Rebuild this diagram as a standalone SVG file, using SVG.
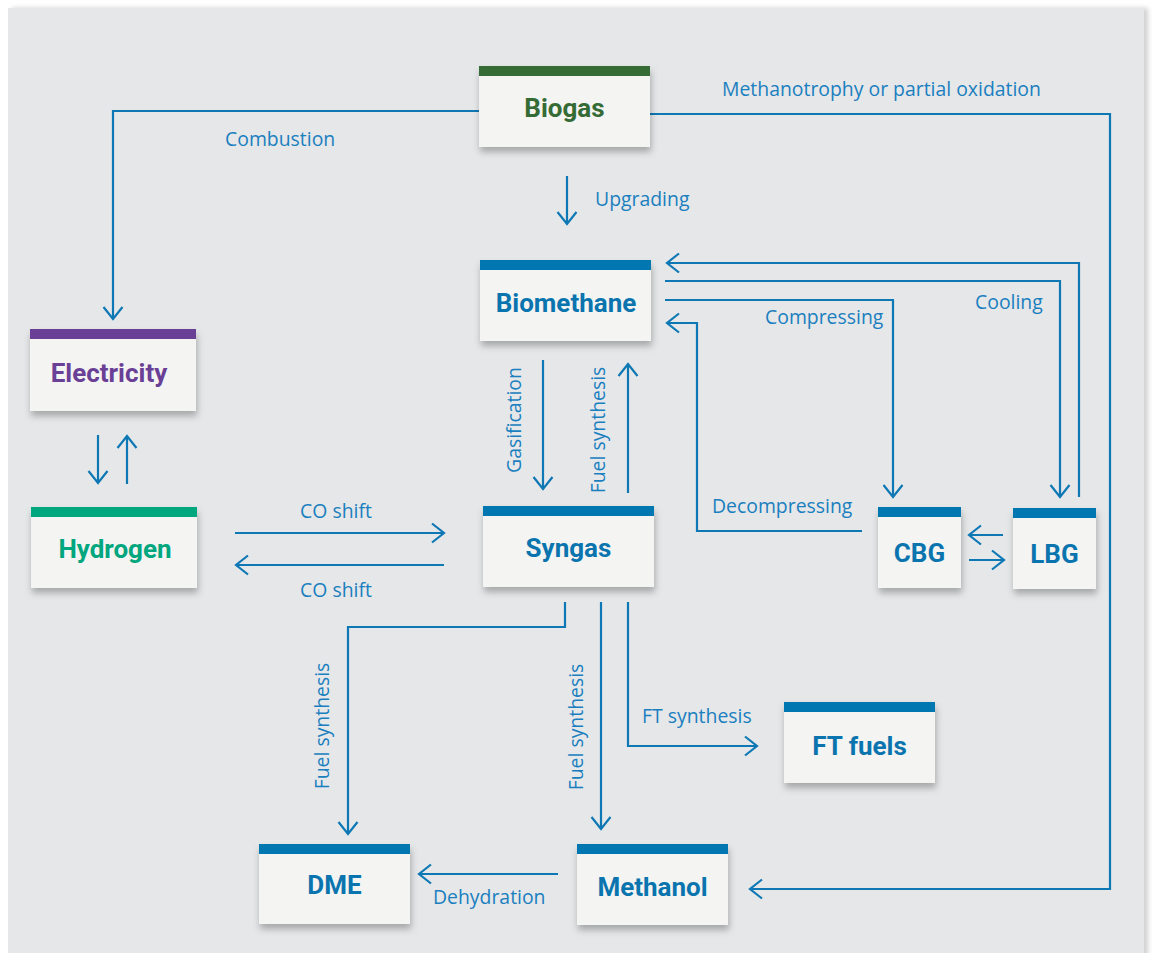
<svg xmlns="http://www.w3.org/2000/svg" width="1152" height="953" viewBox="0 0 1152 953">
<defs>
<style>
.lbl{font-family:"Open Sans","Liberation Sans",sans-serif;font-size:19.4px;fill:#1a7fbf}
.bt{font-family:Roboto,"Liberation Sans",sans-serif;font-size:26px;font-weight:bold;text-anchor:middle}
.body{fill:#f4f4f3}
.con{fill:none;stroke:#0e78b5;stroke-width:2.2}
.blue{fill:#0077b0}
</style>
<filter id="sh" x="-10%" y="-10%" width="120%" height="130%">
<feDropShadow dx="1" dy="5" stdDeviation="3.5" flood-color="#000" flood-opacity="0.28"/>
</filter>
<filter id="psh" x="-5%" y="-5%" width="110%" height="110%">
<feDropShadow dx="4" dy="0" stdDeviation="2.5" flood-color="#000" flood-opacity="0.18"/>
</filter>
<marker id="ar" markerUnits="userSpaceOnUse" viewBox="-15 -15 30 30" markerWidth="30" markerHeight="30" refX="0" refY="0" orient="auto">
<path d="M-12,-9.5 L0,0 L-12,9.5" fill="none" stroke="#0e78b5" stroke-width="2.2"/>
</marker>
</defs>
<rect width="1152" height="953" fill="#ffffff"/>
<rect x="8" y="8" width="1136" height="960" fill="#e6e7e9" filter="url(#psh)"/>

<g id="connectors">
<path class="con" d="M479,111 H113 V319" marker-end="url(#ar)"/>
<path class="con" d="M650,114 H1110 V889 H750" marker-end="url(#ar)"/>
<path class="con" d="M567,176 V224" marker-end="url(#ar)"/>
<path class="con" d="M1079,497 V263 H667" marker-end="url(#ar)"/>
<path class="con" d="M665,281 H1060 V497" marker-end="url(#ar)"/>
<path class="con" d="M665,300 H893 V497" marker-end="url(#ar)"/>
<path class="con" d="M862,531 H697 V323 H667" marker-end="url(#ar)"/>
<path class="con" d="M1003,535 H969" marker-end="url(#ar)"/>
<path class="con" d="M969,560 H1004" marker-end="url(#ar)"/>
<path class="con" d="M543,360 V489" marker-end="url(#ar)"/>
<path class="con" d="M628,493 V364" marker-end="url(#ar)"/>
<path class="con" d="M98,435 V483" marker-end="url(#ar)"/>
<path class="con" d="M127,484 V436" marker-end="url(#ar)"/>
<path class="con" d="M235,533 H444" marker-end="url(#ar)"/>
<path class="con" d="M444,565 H236" marker-end="url(#ar)"/>
<path class="con" d="M565,602 V627 H348 V834" marker-end="url(#ar)"/>
<path class="con" d="M601,602 V829" marker-end="url(#ar)"/>
<path class="con" d="M628,602 V746 H757" marker-end="url(#ar)"/>
<path class="con" d="M558,874 H419" marker-end="url(#ar)"/>
</g>

<g id="labels">
<text class="lbl" x="722" y="96">Methanotrophy or partial oxidation</text>
<text class="lbl" x="225" y="146">Combustion</text>
<text class="lbl" x="595" y="206">Upgrading</text>
<text class="lbl" x="765" y="324">Compressing</text>
<text class="lbl" x="975" y="309">Cooling</text>
<text class="lbl" x="712" y="513">Decompressing</text>
<text class="lbl" x="336" y="518" text-anchor="middle">CO shift</text>
<text class="lbl" x="336" y="597" text-anchor="middle">CO shift</text>
<text class="lbl" x="642" y="723">FT synthesis</text>
<text class="lbl" x="433" y="904">Dehydration</text>
<text class="lbl" transform="translate(521,420) rotate(-90)" text-anchor="middle">Gasification</text>
<text class="lbl" transform="translate(605,430) rotate(-90)" text-anchor="middle">Fuel synthesis</text>
<text class="lbl" transform="translate(329,726) rotate(-90)" text-anchor="middle">Fuel synthesis</text>
<text class="lbl" transform="translate(583,727) rotate(-90)" text-anchor="middle">Fuel synthesis</text>
</g>

<g id="biogas">
<rect class="body" x="479" y="66" width="171" height="81" filter="url(#sh)"/>
<rect x="479" y="66" width="171" height="10" fill="#356b35"/>
<text class="bt" x="564.5" y="117" fill="#356b35">Biogas</text>
</g>
<g id="biomethane">
<rect class="body" x="480" y="260" width="171" height="81" filter="url(#sh)"/>
<rect class="blue" x="480" y="260" width="171" height="10"/>
<text class="bt" x="566" y="312" fill="#0a74ae">Biomethane</text>
</g>
<g id="electricity">
<rect class="body" x="30" y="329" width="166" height="82" filter="url(#sh)"/>
<rect x="30" y="329" width="166" height="10" fill="#6a3f96"/>
<text class="bt" x="109" y="382" fill="#6a3f96">Electricity</text>
</g>
<g id="hydrogen">
<rect class="body" x="31" y="507" width="166" height="81" filter="url(#sh)"/>
<rect x="31" y="507" width="166" height="10" fill="#00a67e"/>
<text class="bt" x="115" y="558" fill="#00a67e">Hydrogen</text>
</g>
<g id="syngas">
<rect class="body" x="483" y="506" width="171" height="81" filter="url(#sh)"/>
<rect class="blue" x="483" y="506" width="171" height="10"/>
<text class="bt" x="568.5" y="557" fill="#0a74ae">Syngas</text>
</g>
<g id="cbg">
<rect class="body" x="878" y="507" width="83" height="81" filter="url(#sh)"/>
<rect class="blue" x="878" y="507" width="83" height="10"/>
<text class="bt" x="919.5" y="562" fill="#0a74ae">CBG</text>
</g>
<g id="lbg">
<rect class="body" x="1013" y="508" width="83" height="81" filter="url(#sh)"/>
<rect class="blue" x="1013" y="508" width="83" height="10"/>
<text class="bt" x="1054.5" y="563" fill="#0a74ae">LBG</text>
</g>
<g id="ftfuels">
<rect class="body" x="784" y="702" width="151" height="81" filter="url(#sh)"/>
<rect class="blue" x="784" y="702" width="151" height="10"/>
<text class="bt" x="859.5" y="755" fill="#0a74ae">FT fuels</text>
</g>
<g id="dme">
<rect class="body" x="259" y="844" width="151" height="80" filter="url(#sh)"/>
<rect class="blue" x="259" y="844" width="151" height="10"/>
<text class="bt" x="334.5" y="894" fill="#0a74ae">DME</text>
</g>
<g id="methanol">
<rect class="body" x="577" y="844" width="151" height="81" filter="url(#sh)"/>
<rect class="blue" x="577" y="844" width="151" height="10"/>
<text class="bt" x="652.5" y="896" fill="#0a74ae">Methanol</text>
</g>
</svg>
